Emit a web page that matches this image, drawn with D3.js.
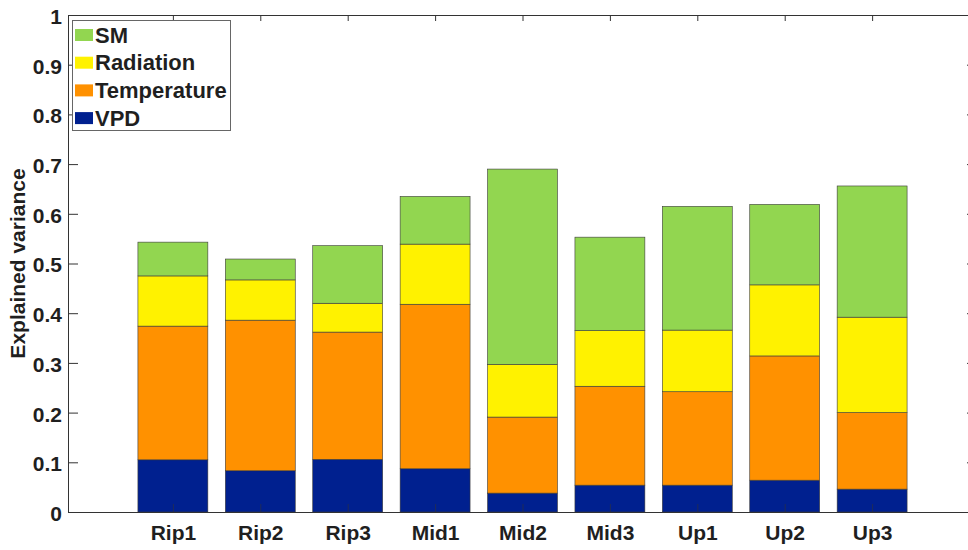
<!DOCTYPE html>
<html>
<head>
<meta charset="utf-8">
<script src="https://cdn.jsdelivr.net/npm/d3@7"></script>
<style>
  html, body { margin: 0; padding: 0; background: #ffffff; }
  svg { display: block; font-family: "Liberation Sans", Arial, sans-serif; }
</style>
</head>
<body>
<svg id="chart" width="968" height="550"></svg>
<script>
// Sites along the gradient (riparian, middle, upland)
const sites = ["Rip1", "Rip2", "Rip3", "Mid1", "Mid2", "Mid3", "Up1", "Up2", "Up3"];

// Explained variance contributed by each driver (stacked bottom to top)
const vpd         = [0.105, 0.083, 0.106, 0.087, 0.038, 0.054, 0.054, 0.064, 0.046];
const temperature = [0.269, 0.303, 0.256, 0.331, 0.153, 0.199, 0.188, 0.250, 0.154];
const radiation   = [0.101, 0.081, 0.058, 0.121, 0.106, 0.112, 0.124, 0.143, 0.192];
const sm          = [0.068, 0.042, 0.116, 0.096, 0.393, 0.188, 0.249, 0.162, 0.264];

const seriesNames = ["VPD", "Temperature", "Radiation", "SM"];
const seriesColors = ["#00208f", "#ff9100", "#fff200", "#92d650"];
const yTicks = [0, 0.1, 0.2, 0.3, 0.4, 0.5, 0.6, 0.7, 0.8, 0.9, 1];

const rows = sites.map((s, i) => ({
  site: s, pos: i + 1,
  VPD: vpd[i], Temperature: temperature[i], Radiation: radiation[i], SM: sm[i]
}));

const svg = d3.select("#chart");
const plotLeft = 68, plotRight = 977, plotTop = 15, plotBottom = 512;

const x = d3.scaleLinear().domain([-0.2, 10.2]).range([plotLeft, plotRight]);
const y = d3.scaleLinear().domain([0, 1]).range([plotBottom, plotTop]);
const barW = x(0.8) - x(0);

const layers = d3.stack().keys(seriesNames)(rows);

const axisColor = "#333333";
const textColor = "#1f1f1f";

// stacked bars
svg.append("g").selectAll("g")
  .data(layers)
  .join("g")
  .attr("fill", (d, i) => seriesColors[i])
  .selectAll("rect")
  .data(d => d)
  .join("rect")
  .attr("x", d => x(d.data.pos) - barW / 2)
  .attr("width", barW)
  .attr("y", d => y(d[1]))
  .attr("height", d => y(d[0]) - y(d[1]))
  .attr("stroke", "#3a3a3a")
  .attr("stroke-width", 0.6);

// left y axis, ticks pointing inward
const yAxis = d3.axisLeft(y).tickValues(yTicks).tickSize(-10).tickPadding(6)
  .tickFormat(d => String(+d.toFixed(1)));
const gy = svg.append("g").attr("transform", `translate(${plotLeft},0)`).call(yAxis);
gy.select(".domain").attr("stroke", axisColor).attr("d", `M0.5,${plotTop}V${plotBottom}`);
gy.selectAll(".tick line").attr("stroke", axisColor);
gy.selectAll(".tick text")
  .attr("fill", textColor)
  .attr("font-size", 21).attr("font-weight", "bold")
  .attr("dy", "0.4em");

// right y axis (mirror ticks only)
const yAxisR = d3.axisRight(y).tickValues(yTicks).tickSize(-10).tickFormat("");
const gyr = svg.append("g").attr("transform", `translate(${plotRight},0)`).call(yAxisR);
gyr.select(".domain").attr("stroke", axisColor);
gyr.selectAll(".tick line").attr("stroke", axisColor);

// bottom x axis with category labels
const xAxis = d3.axisBottom(x).tickValues(rows.map(r => r.pos)).tickSize(-8).tickPadding(13)
  .tickFormat(d => sites[d - 1]);
const gx = svg.append("g").attr("transform", `translate(0,${plotBottom})`).call(xAxis);
gx.select(".domain").attr("stroke", axisColor).attr("d", `M${plotLeft},0.5H${plotRight}`);
gx.selectAll(".tick line").attr("stroke", axisColor).attr("stroke-opacity", 0.6);
gx.selectAll(".tick text")
  .attr("fill", textColor)
  .attr("font-size", 21).attr("font-weight", "bold");

// top frame with mirrored ticks
const xAxisTop = d3.axisTop(x).tickValues(rows.map(r => r.pos)).tickSize(-6).tickFormat("");
const gxt = svg.append("g").attr("transform", `translate(0,${plotTop})`).call(xAxisTop);
gxt.select(".domain").attr("stroke", axisColor).attr("d", `M${plotLeft},0.5H${plotRight}`);
gxt.selectAll(".tick line").attr("stroke", axisColor);

// y axis title
svg.append("text")
  .attr("transform", `translate(25,${(plotTop + plotBottom) / 2}) rotate(-90)`)
  .attr("text-anchor", "middle")
  .attr("fill", textColor)
  .attr("font-size", 21).attr("font-weight", "bold")
  .text("Explained variance");

// legend (top-left, SM listed first)
const legendOrder = ["SM", "Radiation", "Temperature", "VPD"];
const lg = svg.append("g");
lg.append("rect")
  .attr("x", 72.5).attr("y", 20.5).attr("width", 158).attr("height", 110)
  .attr("fill", "#ffffff").attr("stroke", "#666666").attr("stroke-width", 1);
legendOrder.forEach((name, i) => {
  const cy = 35 + i * 27.7;
  lg.append("rect")
    .attr("x", 75).attr("y", cy - 6).attr("width", 18).attr("height", 12)
    .attr("fill", seriesColors[seriesNames.indexOf(name)]);
  lg.append("text")
    .attr("x", 95).attr("y", cy + 7.5)
    .attr("fill", textColor)
    .attr("font-size", 22).attr("font-weight", "bold")
    .text(name);
});
</script>
</body>
</html>
